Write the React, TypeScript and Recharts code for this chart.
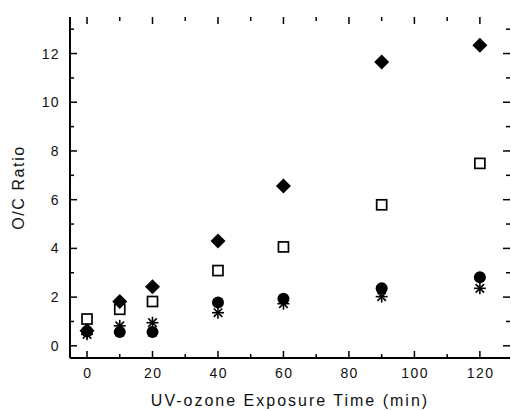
import React from "react";
import { ScatterChart, Scatter, XAxis, YAxis } from "recharts";

// UV-ozone exposure time (min)
const times = [0, 10, 20, 40, 60, 90, 120];
// O/C ratio per sample series
const diamondRatio = [0.62, 1.82, 2.43, 4.3, 6.56, 11.65, 12.34];
const squareRatio = [1.1, 1.5, 1.82, 3.09, 4.06, 5.79, 7.49];
const starRatio = [0.47, 0.82, 0.95, 1.36, 1.73, 2.02, 2.36];
const circleRatio = [0.6, 0.57, 0.57, 1.78, 1.93, 2.36, 2.82];

const xTicks = [0, 10, 20, 30, 40, 50, 60, 70, 80, 90, 100, 110, 120];
const yTicks = [0, 1, 2, 3, 4, 5, 6, 7, 8, 9, 10, 11, 12, 13];

const toPoints = (vals: number[]) => times.map((t, i) => ({ x: t, y: vals[i] }));

const FONT = "'Liberation Sans', Arial, Helvetica, sans-serif";
const W = 511;
const H = 411;
const TOP = 17; // plot top edge
const RIGHT = 510; // plot right edge

// bottom ticks point inward, mirrored on the top frame
const BottomTick = (props: any) => {
  const { x, y, payload } = props;
  const len = payload.value % 20 === 0 ? 7 : 4;
  return (
    <g>
      <line x1={x} x2={x} y1={y} y2={y - len} stroke="#000" strokeWidth={1.5} />
      <line x1={x} x2={x} y1={TOP} y2={TOP + len} stroke="#000" strokeWidth={1.5} />
      {len === 7 && (
        <text x={x + 0.7} y={y + 20} textAnchor="middle" fontSize={14} fontFamily={FONT} letterSpacing={1.4} fill="#111">
          {payload.value}
        </text>
      )}
    </g>
  );
};

// left ticks point inward, mirrored on the right frame
const LeftTick = (props: any) => {
  const { x, y, payload } = props;
  const len = payload.value % 2 === 0 ? 7 : 4;
  return (
    <g>
      <line x1={x} x2={x + len} y1={y} y2={y} stroke="#000" strokeWidth={1.5} />
      <line x1={RIGHT} x2={RIGHT - len} y1={y} y2={y} stroke="#000" strokeWidth={1.5} />
      {len === 7 && (
        <text x={x - 10} y={y + 5} textAnchor="end" fontSize={14} fontFamily={FONT} letterSpacing={1.4} fill="#111">
          {payload.value}
        </text>
      )}
    </g>
  );
};

const Diamond = (p: any) => (
  <polygon
    points={`${p.cx},${p.cy - 7.5} ${p.cx + 7.5},${p.cy} ${p.cx},${p.cy + 7.5} ${p.cx - 7.5},${p.cy}`}
    fill="#000"
  />
);

const OpenSquare = (p: any) => (
  <rect x={p.cx - 5} y={p.cy - 5} width={10} height={10} fill="none" stroke="#000" strokeWidth={1.7} />
);

const Dot = (p: any) => <circle cx={p.cx} cy={p.cy} r={6} fill="#000" />;

const Star = (p: any) => {
  const r = 6;
  const d = r * 0.707;
  return (
    <g stroke="#000" strokeWidth={1.6}>
      <line x1={p.cx - r} x2={p.cx + r} y1={p.cy} y2={p.cy} />
      <line x1={p.cx} x2={p.cx} y1={p.cy - r} y2={p.cy + r} />
      <line x1={p.cx - d} x2={p.cx + d} y1={p.cy - d} y2={p.cy + d} />
      <line x1={p.cx - d} x2={p.cx + d} y1={p.cy + d} y2={p.cy - d} />
    </g>
  );
};

const YTitle = (props: any) => {
  const { viewBox } = props;
  const cx = 18;
  const cy = viewBox.y + viewBox.height / 2;
  return (
    <text
      x={cx}
      y={cy}
      transform={`rotate(-90 ${cx} ${cy})`}
      textAnchor="middle"
      dominantBaseline="central"
      fontSize={16}
      fontFamily={FONT}
      letterSpacing={1.6}
      fill="#111"
    >
      O/C Ratio
    </text>
  );
};

const XTitle = (props: any) => {
  const { viewBox } = props;
  const cx = viewBox.x + viewBox.width / 2;
  return (
    <text x={cx} y={406} textAnchor="middle" fontSize={16} fontFamily={FONT} letterSpacing={2} fill="#111">
      UV-ozone Exposure Time (min)
    </text>
  );
};

export default function App() {
  return (
    <div style={{ position: "absolute", left: 0, top: 0, width: W, height: H, overflow: "hidden", background: "#fff" }}>
      <ScatterChart width={W} height={H} margin={{ top: TOP, right: W - RIGHT, bottom: 0, left: 0 }}>
        <XAxis
          xAxisId="bottom"
          type="number"
          dataKey="x"
          orientation="bottom"
          domain={[-5.2, 129.2]}
          allowDataOverflow
          ticks={xTicks}
          interval={0}
          height={53}
          tickSize={0}
          tickMargin={0}
          tickLine={false}
          tick={<BottomTick />}
          axisLine={{ stroke: "#000", strokeWidth: 2 }}
          label={<XTitle />}
        />
        <XAxis
          xAxisId="top"
          type="number"
          orientation="top"
          domain={[-5.2, 129.2]}
          height={0}
          tick={false}
          tickLine={false}
          axisLine={{ stroke: "#000", strokeWidth: 2 }}
        />
        <YAxis
          yAxisId="left"
          type="number"
          dataKey="y"
          orientation="left"
          domain={[-0.5, 13.5]}
          allowDataOverflow
          ticks={yTicks}
          interval={0}
          width={70}
          tickSize={0}
          tickMargin={0}
          tickLine={false}
          tick={<LeftTick />}
          axisLine={{ stroke: "#000", strokeWidth: 2 }}
          label={<YTitle />}
        />
        <Scatter xAxisId="bottom" yAxisId="left" data={toPoints(squareRatio)} shape={OpenSquare} isAnimationActive={false} />
        <Scatter xAxisId="bottom" yAxisId="left" data={toPoints(diamondRatio)} shape={Diamond} isAnimationActive={false} />
        <Scatter xAxisId="bottom" yAxisId="left" data={toPoints(starRatio)} shape={Star} isAnimationActive={false} />
        <Scatter xAxisId="bottom" yAxisId="left" data={toPoints(circleRatio)} shape={Dot} isAnimationActive={false} />
      </ScatterChart>
    </div>
  );
}
